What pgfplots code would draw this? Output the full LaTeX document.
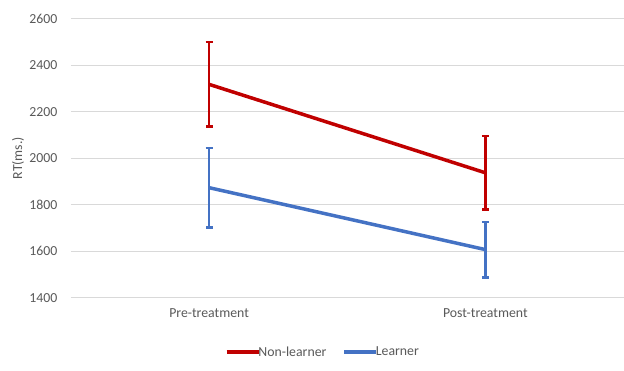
\documentclass[border=0pt]{standalone}
\usepackage{pgfplots}
\pgfplotsset{compat=1.18}
\usepackage{fontspec}
\setmainfont{Carlito}
\definecolor{nonred}{HTML}{C00000}
\definecolor{learnblue}{HTML}{4472C4}
\definecolor{gridgray}{HTML}{D9D9D9}
\definecolor{txtgray}{HTML}{595959}

\begin{document}
\begin{tikzpicture}
\begin{axis}[
  scale only axis,
  width=553pt, height=279.5pt,
  at={(0,0)}, anchor=south west,
  xmin=-0.5, xmax=1.5,
  ymin=1400, ymax=2600,
  ytick={1400,1600,...,2600},
  xtick={0,1},
  xticklabels={Pre-treatment,Post-treatment},
  axis line style={draw=none},
  major tick length=0pt,
  ymajorgrids,
  grid style={gridgray, line width=0.9pt},
  tick label style={font=\fontsize{13.8}{16}\selectfont, text=txtgray},
  /pgf/number format/assume math mode=true,
  /pgf/number format/1000 sep={},
  yticklabel style={xshift=-10pt},
  xticklabel style={yshift=-7pt},
  ylabel={RT(ms.)},
  ylabel style={at={(axis description cs:-0.0958,0.5)}, anchor=center,
    font=\fontsize{13.8}{16}\selectfont, text=txtgray},
  legend style={draw=none, at={(0.456,-0.195)}, anchor=center,
    legend columns=2, font=\fontsize{13.8}{16}\selectfont, text=txtgray,
    /tikz/every even column/.append style={column sep=14pt},
    inner sep=0pt},
  legend image code/.code={\draw[#1, line width=3.5pt] (0pt,0pt) -- (32pt,0pt);},
  legend cell align=left,
]
\addplot[nonred, line width=3.5pt, no markers,
  error bars/.cd, y dir=both, y explicit,
  error bar style={line width=2.3pt},
  error mark options={rotate=90, mark size=3.5pt, line width=2.3pt}]
  table[x=x, y=y, y error plus=ep, y error minus=em] {
  x y    ep  em
  0 2317 181 181
  1 1937 158 158
};
\addlegendentry{\hspace{-4pt}Non-learner}
\addplot[learnblue, line width=3.5pt, no markers,
  error bars/.cd, y dir=both, y explicit,
  error bar style={line width=2.3pt},
  error mark options={rotate=90, mark size=3.5pt, line width=2.3pt}]
  table[x=x, y=y, y error plus=ep, y error minus=em] {
  x y    ep  em
  0 1873 171 171
  1 1607 120 120
};
\addlegendentry{\hspace{-4pt}Learner}
\end{axis}
\path[use as bounding box] (-71pt,-73pt) rectangle (553pt,298pt);
\end{tikzpicture}
\end{document}
